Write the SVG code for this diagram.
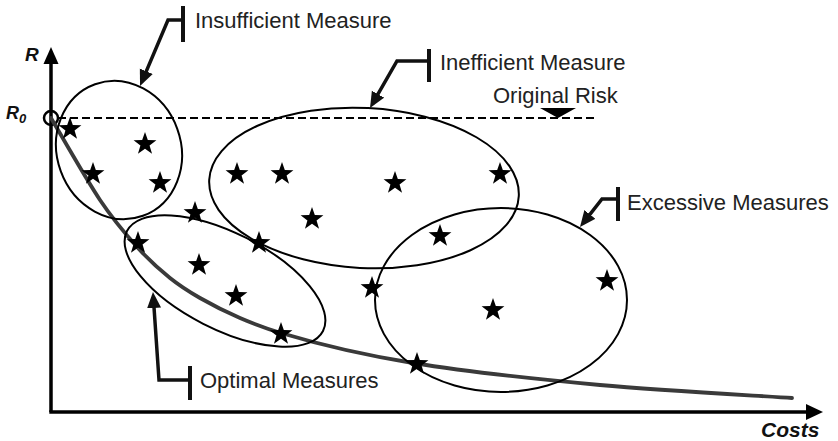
<svg xmlns="http://www.w3.org/2000/svg" width="838" height="441" viewBox="0 0 838 441">
<style>
.lbl{font-family:"Liberation Sans",Arial,sans-serif;font-size:22px;fill:#222}
.ax{font-family:"Liberation Sans",Arial,sans-serif;font-weight:bold;font-style:italic;fill:#111}
.ell{fill:none;stroke:#000;stroke-width:2}
.call{fill:none;stroke:#111;stroke-width:3.5}
.bar{stroke:#111;stroke-width:4}
</style>
<defs>
<path id="star" d="M0,-12 L2.82,-3.88 L11.41,-3.71 L4.57,1.48 L7.05,9.71 L0,4.8 L-7.05,9.71 L-4.57,1.48 L-11.41,-3.71 L-2.82,-3.88 Z" fill="#000"/>
<marker id="ah" markerUnits="userSpaceOnUse" markerWidth="17" markerHeight="15" refX="11" refY="7" orient="auto">
<path d="M0,0 L16,7 L0,14 Z" fill="#111"/>
</marker>
</defs>
<rect width="838" height="441" fill="#fff"/>

<g id="axes">
<line x1="51" y1="412" x2="51" y2="62" stroke="#000" stroke-width="3.5"/>
<polygon points="51,47 43.5,64 58.5,64" fill="#000"/>
<line x1="49.3" y1="412" x2="808" y2="412" stroke="#000" stroke-width="3.5"/>
<polygon points="823,412 806,404 806,420" fill="#000"/>
<text class="ax" x="25" y="61" font-size="19">R</text>
<text class="ax" x="6" y="119" font-size="18">R<tspan font-size="13" dy="4">0</tspan></text>
<text class="ax" x="761" y="437" font-size="21">Costs</text>
</g>

<g id="original-risk">
<line x1="58" y1="118" x2="594" y2="118" stroke="#000" stroke-width="2" stroke-dasharray="8,4"/>
<circle cx="51" cy="118" r="7" fill="none" stroke="#000" stroke-width="2.5"/>
<polygon points="540,108 576,108 558,118" fill="#000"/>
<text class="lbl" x="493" y="103">Original Risk</text>
</g>

<g id="curve">
<path d="M51,118 C59.2,131.7 85.5,178.3 100,200 C114.5,221.7 126.3,235 138,248 C149.7,261 159.7,269.7 170,278 C180.3,286.3 188.3,291.3 200,298 C211.7,304.7 226.5,312.2 240,318 C253.5,323.8 267,328.8 281,333 C325,346.2 359.8,354.3 413,363 C466.2,371.7 536.8,379.2 600,385 C663.2,390.8 760,395.8 792,398" fill="none" stroke="#3a3a3a" stroke-width="3.8" stroke-linecap="round"/>
</g>

<g id="insufficient">
<ellipse class="ell" cx="119" cy="150" rx="62" ry="70" transform="rotate(-20 119 150)"/>
</g>
<g id="inefficient">
<ellipse class="ell" cx="364" cy="188" rx="155" ry="80" transform="rotate(3 364 188)"/>
</g>
<g id="optimal">
<ellipse class="ell" cx="225" cy="281" rx="110" ry="48" transform="rotate(27 225 281)"/>
</g>
<g id="excessive">
<ellipse class="ell" cx="501" cy="300" rx="126" ry="92"/>
</g>

<g id="stars">
<use href="#star" x="70" y="129"/>
<use href="#star" x="145" y="144"/>
<use href="#star" x="93" y="174"/>
<use href="#star" x="160" y="183"/>
<use href="#star" x="237" y="174"/>
<use href="#star" x="282" y="174"/>
<use href="#star" x="395" y="183"/>
<use href="#star" x="500" y="174"/>
<use href="#star" x="312" y="219"/>
<use href="#star" x="195" y="213"/>
<use href="#star" x="138" y="243"/>
<use href="#star" x="259" y="243"/>
<use href="#star" x="199" y="265"/>
<use href="#star" x="236" y="296"/>
<use href="#star" x="281" y="334"/>
<use href="#star" x="440" y="236"/>
<use href="#star" x="372" y="288"/>
<use href="#star" x="607" y="281"/>
<use href="#star" x="493" y="310"/>
<use href="#star" x="417" y="364"/>
</g>

<g id="connectors">
<line class="bar" x1="183" y1="6" x2="183" y2="42"/>
<path class="call" d="M183,20 L168,20 L142,81.4" marker-end="url(#ah)"/>
<line class="bar" x1="429" y1="49" x2="429" y2="82"/>
<path class="call" d="M429,61 L397,61 L372.5,103.7" marker-end="url(#ah)"/>
<line class="bar" x1="618" y1="187" x2="618" y2="221"/>
<path class="call" d="M618,199 L602,199 L583.1,223.1" marker-end="url(#ah)"/>
<line class="bar" x1="190" y1="366" x2="190" y2="400"/>
<path class="call" d="M190,380 L159,380 L153.3,297" marker-end="url(#ah)"/>
</g>

<g id="labels">
<text class="lbl" x="195" y="28">Insufficient Measure</text>
<text class="lbl" x="440" y="70">Inefficient Measure</text>
<text class="lbl" x="627" y="210">Excessive Measures</text>
<text class="lbl" x="200" y="388">Optimal Measures</text>
</g>
</svg>
